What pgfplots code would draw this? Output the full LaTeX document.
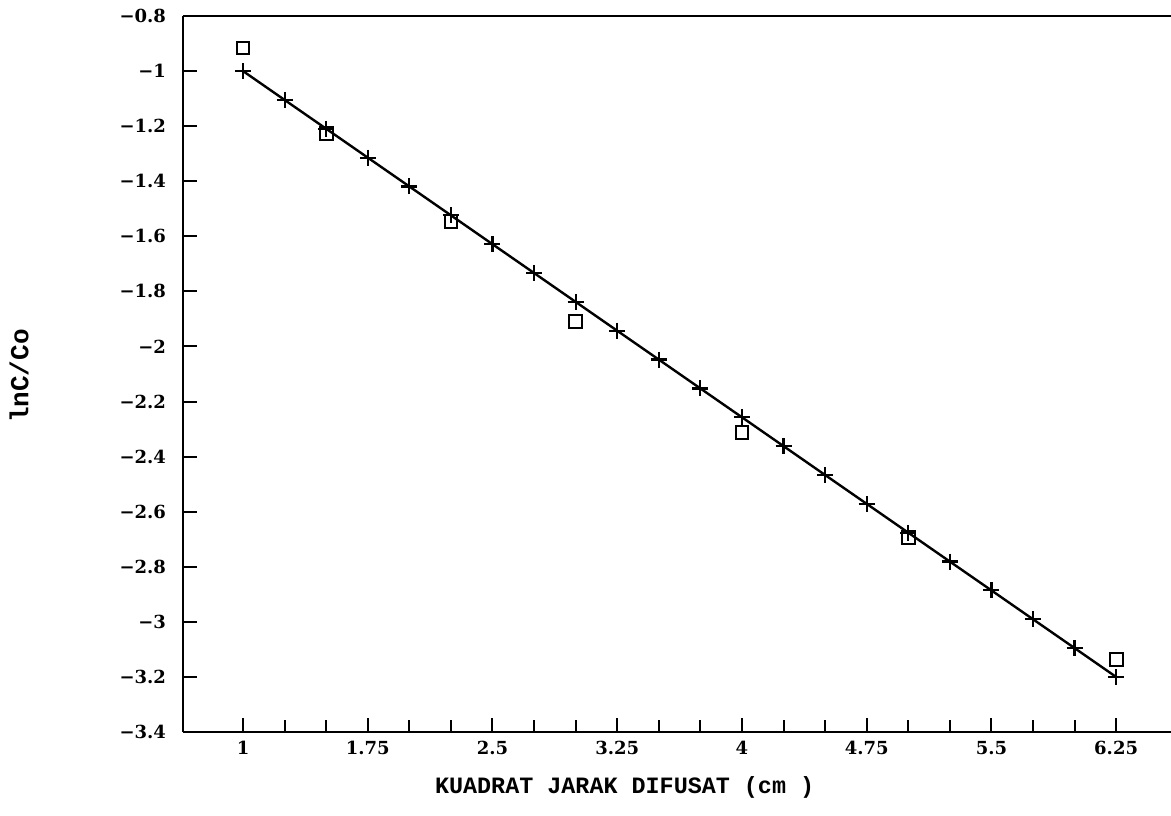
\documentclass[border=0pt]{standalone}
\usepackage{fontspec}
\setmainfont{DejaVu Serif}
\newfontfamily\lblfont{Liberation Mono}
\usepackage{pgfplots}
\pgfplotsset{compat=1.18}
\begin{document}
\begin{tikzpicture}
\begin{axis}[
  scale only axis,
  width=494pt, height=358pt,
  xmin=0.639, xmax=6.58,
  ymin=-3.4, ymax=-0.8,
  axis x line*=box,
  axis y line*=left,
  axis line style={line width=1.3pt},
  tick align=inside,
  xtick pos=bottom,
  ytick pos=left,
  xtick={1,1.75,2.5,3.25,4,4.75,5.5,6.25},
  xticklabels={1,1.75,2.5,3.25,4,4.75,5.5,6.25},
  minor xtick={1.25,1.5,2,2.25,2.75,3,3.5,3.75,4.25,4.5,5,5.25,5.75,6},
  ytick={-3.4,-3.2,-3,-2.8,-2.6,-2.4,-2.2,-2,-1.8,-1.6,-1.4,-1.2,-1,-0.8},
  yticklabels={−3.4,−3.2,−3,−2.8,−2.6,−2.4,−2.2,−2,−1.8,−1.6,−1.4,−1.2,−1,−0.8},
  major tick length=7pt,
  minor tick length=6pt,
  every tick/.style={black, line width=1pt},
  ticklabel style={font=\fontsize{9}{10}\bfseries},
  yticklabel style={xshift=-5pt},
  xticklabel style={yshift=-1pt},
  xlabel={KUADRAT JARAK DIFUSAT (cm )},
  xlabel style={font=\lblfont\bfseries\fontsize{11.7}{13}\selectfont, at={(axis description cs:0.447,-0.077)}, anchor=center},
  ylabel={lnC/Co},
  ylabel style={font=\lblfont\bfseries\fontsize{13}{15}\selectfont, at={(axis description cs:-0.166,0.497)}, anchor=center, rotate=0},
  clip=false,
]
\addplot[black, line width=1.2pt, mark=+, mark size=4pt, mark options={line width=1.1pt}] coordinates {
(1,-1) (1.25,-1.1048) (1.5,-1.2095) (1.75,-1.3143) (2,-1.4190) (2.25,-1.5238)
(2.5,-1.6286) (2.75,-1.7333) (3,-1.8381) (3.25,-1.9429) (3.5,-2.0476)
(3.75,-2.1524) (4,-2.2571) (4.25,-2.3619) (4.5,-2.4667) (4.75,-2.5714)
(5,-2.6762) (5.25,-2.7810) (5.5,-2.8857) (5.75,-2.9905) (6,-3.0952) (6.25,-3.2)
};
\addplot[only marks, black, mark=square, mark size=3.2pt, mark options={line width=1pt}] coordinates {
(1,-0.916) (1.5,-1.228) (2.25,-1.545) (3,-1.909) (4,-2.313) (5,-2.695) (6.25,-3.138)
};
\coordinate (SW) at (rel axis cs:0,0);
\coordinate (NE) at (rel axis cs:1,1);
\end{axis}
\pgfresetboundingbox
\path ([xshift=-91.5pt,yshift=-41.5pt]SW) rectangle ([yshift=8pt]NE);
\end{tikzpicture}
\end{document}
